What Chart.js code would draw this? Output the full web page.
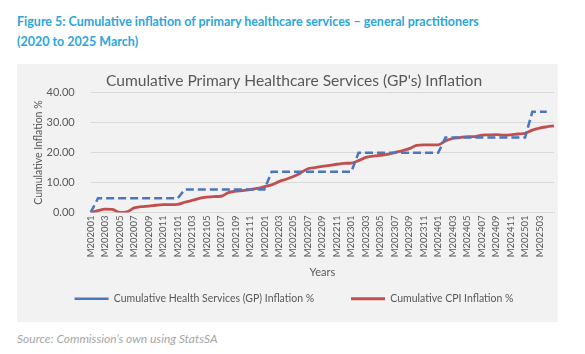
<!DOCTYPE html>
<html lang="en">
<head>
<meta charset="UTF-8">
<title>Figure 5</title>
<script src="https://cdn.jsdelivr.net/npm/chart.js"></script>
<style>
    body { margin: 0; background: #fff; width: 585px; height: 354px; position: relative; overflow: hidden; }
    .fig-title { position: absolute; left: 17px; top: 12px; color: #2ba6dc; font: bold 12.5px "Lato", sans-serif; line-height: 20px; }
    .chart-box { position: absolute; left: 17px; top: 64px; width: 541px; height: 258px; background: #f2f2f2; }
    .source { position: absolute; left: 17px; top: 331px; color: #a6a6a6; font: italic 12px "Lato", sans-serif; }
</style>
</head>
<body>

<div class="fig-title">Figure 5: Cumulative inflation of primary healthcare services – general practitioners<br>(2020 to 2025 March)</div>

<div class="chart-box">
    <canvas id="inflationChart" width="541" height="258"></canvas>
</div>

<div class="source">Source: Commission’s own using StatsSA</div>

<script>
    // months M202001 .. M202505
    const months = [
        "M202001","M202002","M202003","M202004","M202005","M202006","M202007","M202008","M202009","M202010","M202011","M202012",
        "M202101","M202102","M202103","M202104","M202105","M202106","M202107","M202108","M202109","M202110","M202111","M202112",
        "M202201","M202202","M202203","M202204","M202205","M202206","M202207","M202208","M202209","M202210","M202211","M202212",
        "M202301","M202302","M202303","M202304","M202305","M202306","M202307","M202308","M202309","M202310","M202311","M202312",
        "M202401","M202402","M202403","M202404","M202405","M202406","M202407","M202408","M202409","M202410","M202411","M202412",
        "M202501","M202502","M202503","M202504","M202505"
    ];

    // GP (health services) cumulative inflation, steps once a year
    const gpInflation = [
        0, 4.7, 4.7, 4.7, 4.7, 4.7, 4.7, 4.7, 4.7, 4.7, 4.7, 4.7,
        4.7, 7.7, 7.7, 7.7, 7.7, 7.7, 7.7, 7.7, 7.7, 7.7, 7.7, 7.7,
        7.7, 13.6, 13.6, 13.6, 13.6, 13.6, 13.6, 13.6, 13.6, 13.6, 13.6, 13.6,
        13.6, 19.9, 19.9, 19.9, 19.9, 19.9, 19.9, 19.9, 19.9, 19.9, 19.9, 19.9,
        19.9, 25.0, 25.0, 25.0, 25.0, 25.0, 25.0, 25.0, 25.0, 25.0, 25.0, 25.0,
        25.0, 33.6, 33.6, 33.6, null
    ];

    // CPI cumulative inflation
    const cpiInflation = [
        0, 0.6, 1.1, 1.0, 0.0, 0.2, 1.5, 1.9, 2.1, 2.4, 2.6, 2.6,
        2.7, 3.4, 4.0, 4.7, 5.1, 5.3, 5.4, 6.6, 7.1, 7.3, 7.6, 8.0,
        8.6, 9.2, 10.3, 11.1, 12.0, 13.2, 14.6, 15.0, 15.4, 15.7, 16.1, 16.4,
        16.5, 17.3, 18.4, 18.8, 19.1, 19.4, 20.0, 20.6, 21.3, 22.4, 22.6, 22.6,
        22.6, 23.9, 24.7, 25.0, 25.3, 25.3, 25.8, 25.9, 26.0, 25.8, 25.9, 26.2,
        26.4, 27.5, 28.2, 28.6, 28.9
    ];

    const yTicks = [0, 5, 10, 15, 20, 25, 30, 35, 40];

    const axisGrey = "#595959";

    new Chart(document.getElementById("inflationChart"), {
        type: "line",
        data: {
            labels: months,
            datasets: [
                {
                    label: "Cumulative Health Services (GP) Inflation %",
                    data: gpInflation,
                    borderColor: "#4a76c0",
                    borderWidth: 2.5,
                    borderDash: [8, 4],
                    pointRadius: 0,
                    tension: 0
                },
                {
                    label: "Cumulative CPI Inflation %",
                    data: cpiInflation,
                    borderColor: "#c0504d",
                    borderWidth: 2.8,
                    pointRadius: 0,
                    cubicInterpolationMode: "monotone"
                }
            ]
        },
        options: {
            responsive: false,
            animation: false,
            layout: { padding: { left: 15, right: 2, top: 6, bottom: 8 } },
            plugins: {
                title: {
                    display: true,
                    text: "Cumulative Primary Healthcare Services (GP's) Inflation",
                    color: axisGrey,
                    font: { family: "Lato", size: 15.6, weight: "normal" },
                    padding: { top: 2, bottom: 2 }
                },
                legend: {
                    position: "bottom",
                    labels: {
                        color: axisGrey,
                        font: { family: "Lato", size: 10.5 },
                        usePointStyle: true,
                        pointStyle: "line",
                        pointStyleWidth: 34,
                        padding: 10,
                        // wider gap between the two legend entries, like the original
                        generateLabels: chart => Chart.defaults.plugins.legend.labels.generateLabels(chart)
                            .map((item, i) => i === 0 ? { ...item, text: item.text + "          " } : item)
                    }
                },
                tooltip: { enabled: false }
            },
            scales: {
                x: {
                    offset: false,
                    grid: { display: false, tickLength: 0 },
                    border: { color: "#d9d9d9" },
                    afterFit: axis => { axis.paddingRight = 4; },
                    ticks: {
                        autoSkip: false,
                        minRotation: 90,
                        maxRotation: 90,
                        color: axisGrey,
                        font: { family: "Lato", size: 9.5 },
                        callback: function (value, index) {
                            return index % 2 === 0 && index < months.length - 1 ? this.getLabelForValue(value) : "";
                        }
                    },
                    title: {
                        display: true,
                        text: "Years",
                        color: axisGrey,
                        font: { family: "Lato", size: 11 },
                        padding: { top: 6, bottom: 4 }
                    }
                },
                y: {
                    min: 0,
                    max: 40,
                    afterBuildTicks: axis => { axis.ticks = yTicks.map(v => ({ value: v })); },
                    // pull the tick labels closer to the axis title
                    afterFit: axis => { axis.width -= 16; },
                    grid: { color: "#d9d9d9", drawTicks: false, tickLength: 0 },
                    border: { display: false },
                    ticks: {
                        color: axisGrey,
                        padding: 16,
                        font: { family: "Lato", size: 11 },
                        callback: v => v.toFixed(2)
                    },
                    title: {
                        display: true,
                        text: "Cumulative Inflation %",
                        color: axisGrey,
                        font: { family: "Lato", size: 10.5 },
                        padding: { top: 0, bottom: 2 }
                    }
                }
            }
        }
    });
</script>

</body>
</html>
